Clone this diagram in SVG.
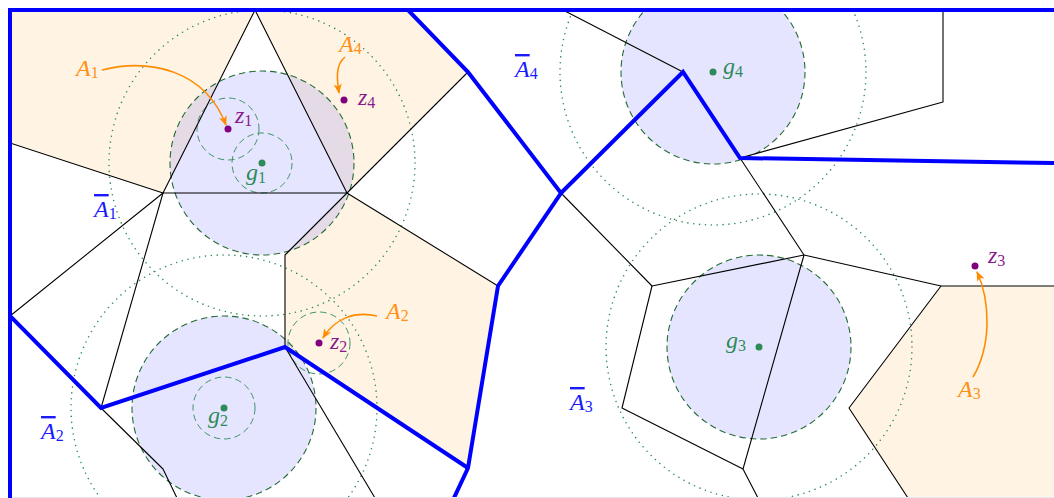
<svg xmlns="http://www.w3.org/2000/svg" width="1054" height="498" viewBox="0 0 1054 498">
<style>
.region{fill:#fff4e4;stroke:none}
.disk{fill:#0000ff;fill-opacity:0.1;stroke:#246b34;stroke-width:1.1;stroke-dasharray:6.5 4}
.small{fill:none;stroke:#3f9467;stroke-width:1;stroke-dasharray:6.5 4}
.dotted{fill:none;stroke:#2e8b57;stroke-width:1.6;stroke-dasharray:0 5.9;stroke-linecap:round}
.edge{fill:none;stroke:#000;stroke-width:1.1;stroke-linejoin:round}
.part{fill:none;stroke:#0000ff;stroke-width:4;stroke-linejoin:miter}
.arrow{fill:none;stroke:#ff8c00;stroke-width:1.6;marker-end:url(#ah)}
.lbl{font-family:"Liberation Serif","Times New Roman",serif;font-size:24px}
.it{font-style:italic}
.sub{font-size:16px}
.ora{fill:#ff9015}
.blu{fill:#1a1aff}
.pur{fill:#8a1a8a}
.grn{fill:#2e8b57}
.ov{text-decoration:overline}
</style>
<defs>
<clipPath id="frame"><rect x="10" y="10" width="1044" height="488"/></clipPath>
<marker id="ah" viewBox="0 0 10 8" refX="9" refY="4" markerWidth="10" markerHeight="8" orient="auto" markerUnits="userSpaceOnUse">
<path d="M0,0 L10,4 L0,8 L2.5,4 Z" fill="#ff8c00"/>
</marker>
</defs>
<rect width="1054" height="498" fill="#fff"/>
<g clip-path="url(#frame)">
<g id="regions">
<polygon class="region" points="10,10 255,10 163,193 10,143"/>
<polygon class="region" points="255,10 408,10 468,72 347,193"/>
<polygon class="region" points="285,255 347,193 498,286 468,468 285,347"/>
<polygon class="region" points="941,286 1054,286 1054,498 908,498 849,408"/>
</g>
<g id="disks">
<circle class="disk" cx="262" cy="163" r="92"/>
<circle class="disk" cx="224" cy="408" r="92"/>
<circle class="disk" cx="759" cy="347" r="92"/>
<circle class="disk" cx="713" cy="72" r="92"/>
</g>
<g id="small-circles">
<circle class="small" cx="228" cy="129" r="31"/>
<circle class="small" cx="262" cy="163" r="30"/>
<circle class="small" cx="224" cy="408" r="31"/>
<circle class="small" cx="319" cy="343" r="31"/>
</g>
<g id="dotted-circles">
<circle class="dotted" cx="262" cy="163" r="153"/>
<circle class="dotted" cx="224" cy="408" r="153"/>
<circle class="dotted" cx="759" cy="347" r="153"/>
<circle class="dotted" cx="713" cy="72" r="153"/>
</g>
<g id="edges">
<polygon class="edge" points="255,10 163,193 347,193"/>
<polyline class="edge" points="10,143 163,193 10,316"/>
<line class="edge" x1="163" y1="193" x2="101" y2="408"/>
<polyline class="edge" points="101,408 163,469 177,498"/>
<line class="edge" x1="285" y1="347" x2="375" y2="498"/>
<line class="edge" x1="347" y1="193" x2="468" y2="72"/>
<polyline class="edge" points="347,193 285,255 285,347"/>
<line class="edge" x1="347" y1="193" x2="498" y2="286"/>
<line class="edge" x1="563" y1="10" x2="683" y2="72"/>
<polyline class="edge" points="943,10 943,102 740,158"/>
<polyline class="edge" points="740,158 804,255 941,286 1054,286"/>
<polyline class="edge" points="561,193 652,286 804,255 743,469 758,498"/>
<polyline class="edge" points="652,286 622,408 743,469"/>
<polyline class="edge" points="941,286 849,408 908,498"/>
</g>
<g id="partition">
<polyline class="part" points="408,10 468,72 561,193 498,286 468,468 453,500"/>
<polyline class="part" points="561,193 683,72 740,158 1054,163"/>
<polyline class="part" points="10,316 101,408 285,347 468,468"/>
</g>
</g>
<polyline class="part" points="10,500 10,10 1056,10"/>
<line x1="12" y1="497.5" x2="1054" y2="497.5" stroke="#e6e6f4" stroke-width="1"/>
<g id="connectors">
<path class="arrow" d="M102,70 C150,58 205,70 226,125"/>
<path class="arrow" d="M345,57 C335,65 337,80 339,93"/>
<path class="arrow" d="M377,316 C355,311 335,318 323,338"/>
<path class="arrow" d="M973,377 C992,345 990,300 977,272"/>
</g>
<g id="g1"><circle cx="262" cy="163" r="3.5" fill="#2e8b57"/><text class="lbl grn" x="246" y="180"><tspan class="it">g</tspan><tspan class="sub" dy="3">1</tspan></text></g>
<g id="g2"><circle cx="224" cy="408" r="3.5" fill="#2e8b57"/><text class="lbl grn" x="208" y="423"><tspan class="it">g</tspan><tspan class="sub" dy="3">2</tspan></text></g>
<g id="g3"><circle cx="759" cy="347" r="3.5" fill="#2e8b57"/><text class="lbl grn" x="726" y="348"><tspan class="it">g</tspan><tspan class="sub" dy="3">3</tspan></text></g>
<g id="g4"><circle cx="713" cy="72" r="3.5" fill="#2e8b57"/><text class="lbl grn" x="723" y="74"><tspan class="it">g</tspan><tspan class="sub" dy="3">4</tspan></text></g>
<g id="z1"><circle cx="228" cy="129" r="3.5" fill="#800080"/><text class="lbl pur" x="235" y="123"><tspan class="it">z</tspan><tspan class="sub" dy="3">1</tspan></text></g>
<g id="z2"><circle cx="319" cy="343" r="3.5" fill="#800080"/><text class="lbl pur" x="330" y="349"><tspan class="it">z</tspan><tspan class="sub" dy="3">2</tspan></text></g>
<g id="z3"><circle cx="975" cy="266" r="3.5" fill="#800080"/><text class="lbl pur" x="988" y="263"><tspan class="it">z</tspan><tspan class="sub" dy="3">3</tspan></text></g>
<g id="z4"><circle cx="344" cy="100" r="3.5" fill="#800080"/><text class="lbl pur" x="358" y="105"><tspan class="it">z</tspan><tspan class="sub" dy="3">4</tspan></text></g>
<g id="A1"><text class="lbl ora" x="76" y="76"><tspan class="it">A</tspan><tspan class="sub" dy="2">1</tspan></text></g>
<g id="A2"><text class="lbl ora" x="386" y="319"><tspan class="it">A</tspan><tspan class="sub" dy="2">2</tspan></text></g>
<g id="A3"><text class="lbl ora" x="958" y="397"><tspan class="it">A</tspan><tspan class="sub" dy="2">3</tspan></text></g>
<g id="A4"><text class="lbl ora" x="339" y="52"><tspan class="it">A</tspan><tspan class="sub" dy="2">4</tspan></text></g>
<g id="Abar1"><text class="lbl blu" x="94" y="217"><tspan class="it ov">A</tspan><tspan class="sub" dy="2">1</tspan></text></g>
<g id="Abar2"><text class="lbl blu" x="41" y="439"><tspan class="it ov">A</tspan><tspan class="sub" dy="2">2</tspan></text></g>
<g id="Abar3"><text class="lbl blu" x="570" y="410"><tspan class="it ov">A</tspan><tspan class="sub" dy="2">3</tspan></text></g>
<g id="Abar4"><text class="lbl blu" x="515" y="77"><tspan class="it ov">A</tspan><tspan class="sub" dy="2">4</tspan></text></g>
</svg>
